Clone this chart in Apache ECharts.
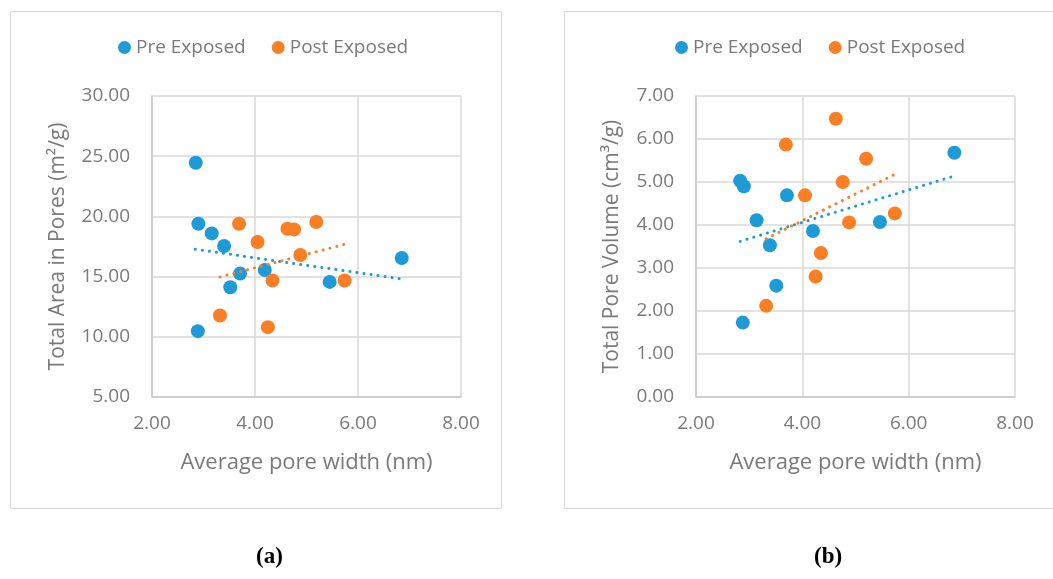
<!DOCTYPE html>
<html><head><meta charset="utf-8">
<script src="https://cdn.jsdelivr.net/npm/echarts@6/dist/echarts.min.js"></script>
<style>html,body{margin:0;padding:0;background:#fff}#c{width:1053px;height:579px}</style>
</head><body><div id="c"></div>
<script>
// Panel (a): Total area in pores vs average pore width
const preWidthA  = [2.85, 2.90, 3.16, 3.40, 3.71, 3.52, 4.19, 5.45, 6.85, 2.89];
const preAreaA   = [24.45, 19.39, 18.59, 17.54, 15.25, 14.12, 15.55, 14.56, 16.55, 10.47];
const postWidthA = [3.69, 3.32, 4.05, 4.63, 4.76, 5.19, 4.88, 4.34, 5.74, 4.25];
const postAreaA  = [19.39, 11.77, 17.87, 18.98, 18.92, 19.53, 16.80, 14.67, 14.67, 10.80];
const preTrendA  = [[2.84, 17.27], [6.85, 14.80]];
const postTrendA = [[3.32, 14.97], [5.74, 17.68]];

// Panel (b): Total pore volume vs average pore width
const preWidthB  = [2.83, 2.90, 3.14, 3.71, 3.39, 3.51, 4.20, 5.46, 6.86, 2.88];
const preVolB    = [5.03, 4.90, 4.11, 4.69, 3.53, 2.59, 3.86, 4.07, 5.68, 1.73];
const postWidthB = [4.63, 3.69, 5.20, 4.76, 4.05, 5.74, 4.88, 4.35, 4.25, 3.32];
const postVolB   = [6.47, 5.87, 5.54, 5.00, 4.69, 4.27, 4.06, 3.35, 2.80, 2.12];
const preTrendB  = [[2.83, 3.62], [6.86, 5.14]];
const postTrendB = [[3.32, 3.68], [5.74, 5.18]];

const seriesNames = ['Pre Exposed', 'Post Exposed'];
const xTitle = 'Average pore width (nm)';
const yTitleA = 'Total Area in Pores (m²/g)';
const yTitleB = 'Total Pore Volume (cm³/g)';
const captions = ['(a)', '(b)'];

const BLUE = '#1E9BD7', ORANGE = '#F97E24', TXT = '#7a7a7a', GRID = '#d9d9d9';
const FONT = 'Open Sans';
const zip = (a, b) => a.map((v, i) => [v, b[i]]);

function xAxis(gi) {
  return { type: 'value', gridIndex: gi, min: 2, max: 8, interval: 2,
    name: xTitle, nameLocation: 'middle', nameGap: 55,
    nameTextStyle: { color: TXT, fontSize: 22, fontFamily: FONT },
    axisLine: { show: true, lineStyle: { color: '#c8c8c8', width: 1.5 } },
    axisTick: { show: false },
    axisLabel: { color: TXT, fontSize: 19, fontFamily: FONT, margin: 17, formatter: v => v.toFixed(2) },
    splitLine: { show: true, lineStyle: { color: GRID, width: 1.5 } } };
}
function yAxis(gi, min, max, interval, title, gap) {
  return { type: 'value', gridIndex: gi, min, max, interval,
    name: title, nameLocation: 'middle', nameGap: gap, nameRotate: 90,
    nameTextStyle: { color: TXT, fontSize: 21, fontFamily: FONT },
    axisLine: { show: true, lineStyle: { color: '#c8c8c8', width: 1.5 } },
    axisTick: { show: false },
    axisLabel: { color: TXT, fontSize: 19, fontFamily: FONT, margin: 22, formatter: v => v.toFixed(2) },
    splitLine: { show: true, lineStyle: { color: GRID, width: 1.5 } } };
}
function scatter(name, gi, data, color) {
  return { name, type: 'scatter', xAxisIndex: gi, yAxisIndex: gi, data,
    symbol: 'circle', symbolSize: 14, itemStyle: { color, opacity: 1 }, z: 3, silent: true };
}
function trend(name, gi, data, color) {
  return { name, type: 'line', xAxisIndex: gi, yAxisIndex: gi, data, symbol: 'none',
    lineStyle: { color, width: 3, type: [0.1, 7], cap: 'round' }, z: 4, silent: true };
}
function legend(left) {
  return { data: seriesNames, left, top: 33, icon: 'circle', itemWidth: 13, itemHeight: 13,
    itemGap: 26, textStyle: { color: TXT, fontSize: 19, fontFamily: FONT }, selectedMode: false };
}

const chart = echarts.init(document.getElementById('c'), null, { renderer: 'canvas' });
chart.setOption({
  animation: false,
  backgroundColor: '#fff',
  legend: [legend(113), legend(670)],
  grid: [
    { left: 152, top: 96, width: 309, height: 301 },
    { left: 696, top: 96, width: 319, height: 301 }
  ],
  xAxis: [xAxis(0), xAxis(1)],
  yAxis: [yAxis(0, 5, 30, 5, yTitleA, 83), yAxis(1, 0, 7, 1, yTitleB, 73)],
  series: [
    scatter(seriesNames[0], 0, zip(preWidthA, preAreaA), BLUE),
    scatter(seriesNames[1], 0, zip(postWidthA, postAreaA), ORANGE),
    trend('Pre trend a', 0, preTrendA, BLUE),
    trend('Post trend a', 0, postTrendA, ORANGE),
    scatter(seriesNames[0], 1, zip(preWidthB, preVolB), BLUE),
    scatter(seriesNames[1], 1, zip(postWidthB, postVolB), ORANGE),
    trend('Pre trend b', 1, preTrendB, BLUE),
    trend('Post trend b', 1, postTrendB, ORANGE)
  ],
  graphic: [
    { type: 'rect', shape: { x: 10.5, y: 11.5, width: 491, height: 497 }, style: { fill: 'none', stroke: '#d9d9d9', lineWidth: 1 }, z: -1 },
    { type: 'rect', shape: { x: 564.5, y: 11.5, width: 500, height: 497 }, style: { fill: 'none', stroke: '#d9d9d9', lineWidth: 1 }, z: -1 },
    { type: 'text', left: 256, top: 546, style: { text: captions[0], font: 'bold 23px "Liberation Serif"', fill: '#000' } },
    { type: 'text', left: 814, top: 546, style: { text: captions[1], font: 'bold 23px "Liberation Serif"', fill: '#000' } }
  ]
});
</script></body></html>
